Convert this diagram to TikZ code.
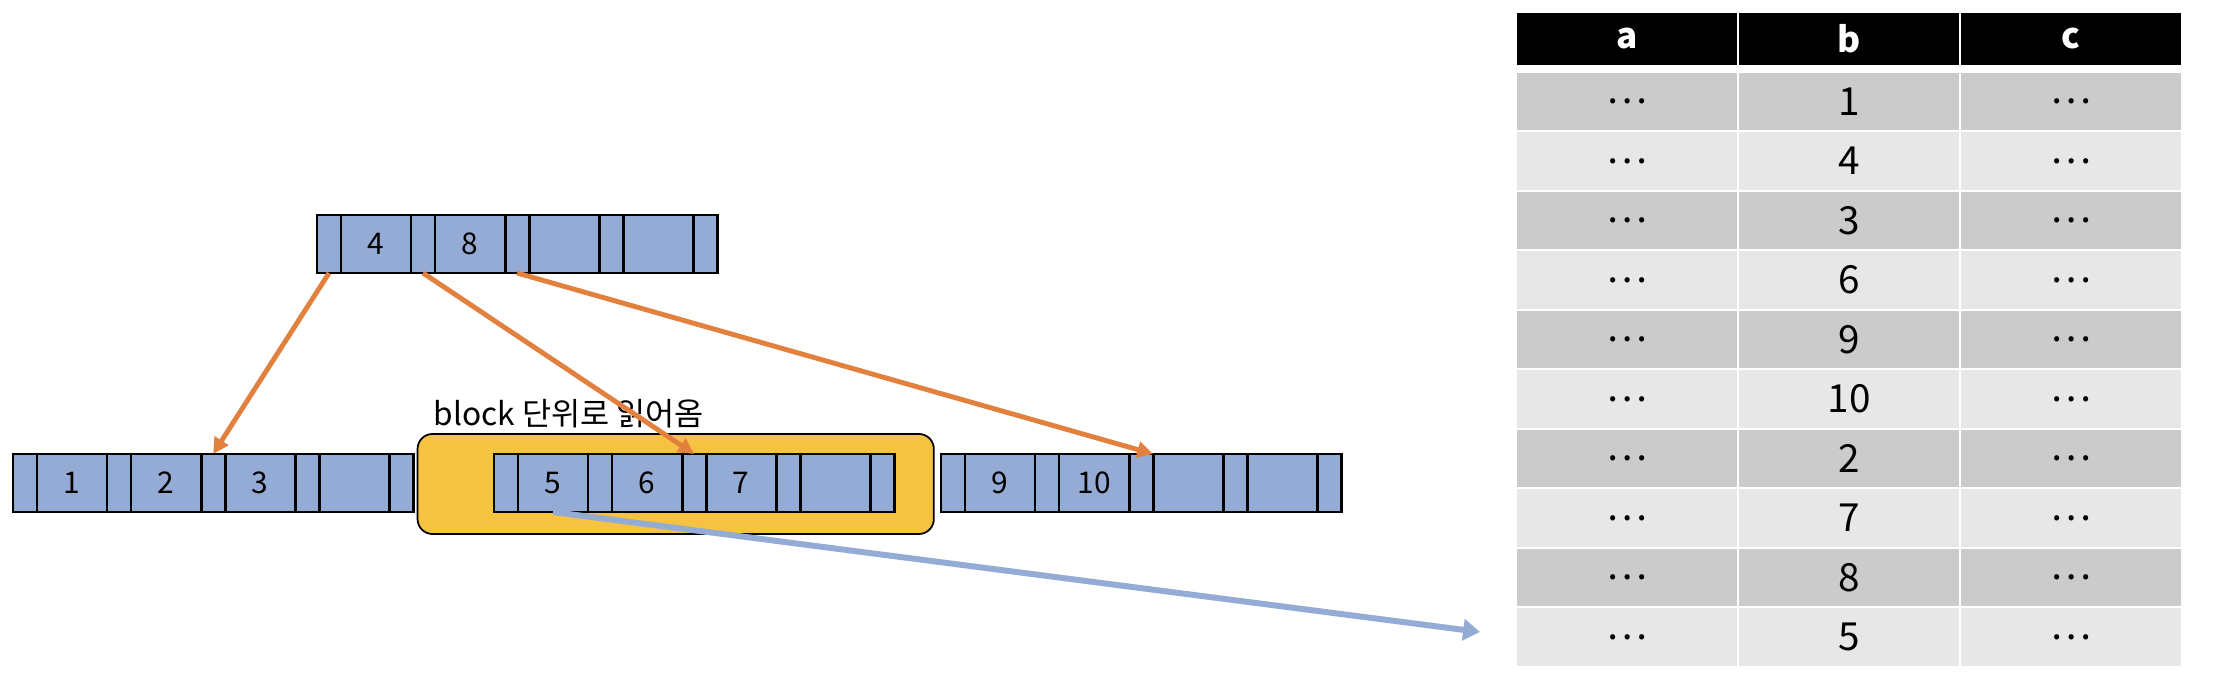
\documentclass[tikz,border=0pt]{standalone}
\usepackage{fontspec}
\setmainfont{Noto Sans CJK KR}
\usetikzlibrary{positioning,arrows.meta}

\definecolor{pageblue}{RGB}{148,171,214}
\definecolor{ptrorange}{RGB}{226,129,62}
\definecolor{blockgold}{RGB}{245,194,66}
\definecolor{rowdark}{RGB}{203,203,203}
\definecolor{rowlight}{RGB}{231,231,231}

\begin{document}
\begin{tikzpicture}[
    x=0.01cm, y=-0.01cm,
    cell/.style={draw, line width=0.8pt, fill=pageblue, inner sep=0pt, outer sep=0pt, minimum height=0.58cm, font=\fontsize{8.5}{10}\selectfont},
    gapcell/.style={cell, minimum width=0.24cm},
    keycell/.style={cell, minimum width=0.70cm},
    readbox/.style={draw, line width=0.5pt, fill=blockgold, rounded corners=0.15cm, minimum width=5.16cm, minimum height=1.0cm},
    tcell/.style={draw=white, line width=0.5pt, minimum width=2.22cm, inner sep=0pt},
    tabhead/.style={tcell, fill=black, text=white, minimum height=0.54cm, font=\fontsize{10}{12}\selectfont\bfseries},
    tabrow/.style={tcell, minimum height=0.595cm, font=\fontsize{11}{13}\selectfont},
    ptr/.style={-{Triangle[length=4.5pt, width=4.5pt]}, line width=1.4pt, color=ptrorange},
    readarrow/.style={-{Triangle[length=4.8pt, width=6pt]}, line width=1.7pt, color=pageblue}
]
\useasboundingbox (0,0) rectangle (2232,692);

% block read at once
\node (blk) [readbox] at (675.7,484) {};
\node (blklabel) [anchor=base west, inner sep=0pt, font=\fontsize{9}{11}\selectfont] at (433,426) {block 단위로 읽어옴};

% index pages
\foreach \pg/\px/\py/\labs in {root/317/215/{4,8,{},{}}, leafA/13/454/{1,2,3,{}}, leafB/494/454/{5,6,7,{}}, leafC/941/454/{9,10,{},{}}} {
    \node (\pg-1) [gapcell, anchor=north west] at (\px,\py) {};
    \foreach \lab [count=\k] in \labs {
        \pgfmathtruncatemacro\pa{2*\k-1}
        \pgfmathtruncatemacro\pb{2*\k}
        \pgfmathtruncatemacro\pc{2*\k+1}
        \node (\pg-\pb) [keycell, right=0pt of \pg-\pa] {\lab};
        \node (\pg-\pc) [gapcell, right=0pt of \pg-\pb] {};
    }
}

% table
\foreach \col/\cx in {a/1627, b/1849, c/2071}
    \node (hd-\col) [tabhead] at (\cx,38.7) {\col};
\foreach \v [count=\i] in {1,4,3,6,9,10,2,7,8,5} {
    \pgfmathsetmacro\ry{101.5+59.5*(\i-1)}
    \ifodd\i\relax \def\shade{rowdark}\else \def\shade{rowlight}\fi
    \node (r\i-a) [tabrow, fill=\shade] at (1627,\ry) {…};
    \node (r\i-b) [tabrow, fill=\shade] at (1849,\ry) {\v};
    \node (r\i-c) [tabrow, fill=\shade] at (2071,\ry) {…};
}

\coordinate (fetchend) at (1480,632);
\draw [ptr] (root-1.south) -- (leafA-5.north);
\draw [ptr] (root-3.south) -- (leafB-5.north);
\draw [ptr] (root-5.south) -- (leafC-5.north east);
\draw [readarrow] (leafB-2.south) -- (fetchend);
\end{tikzpicture}
\end{document}
